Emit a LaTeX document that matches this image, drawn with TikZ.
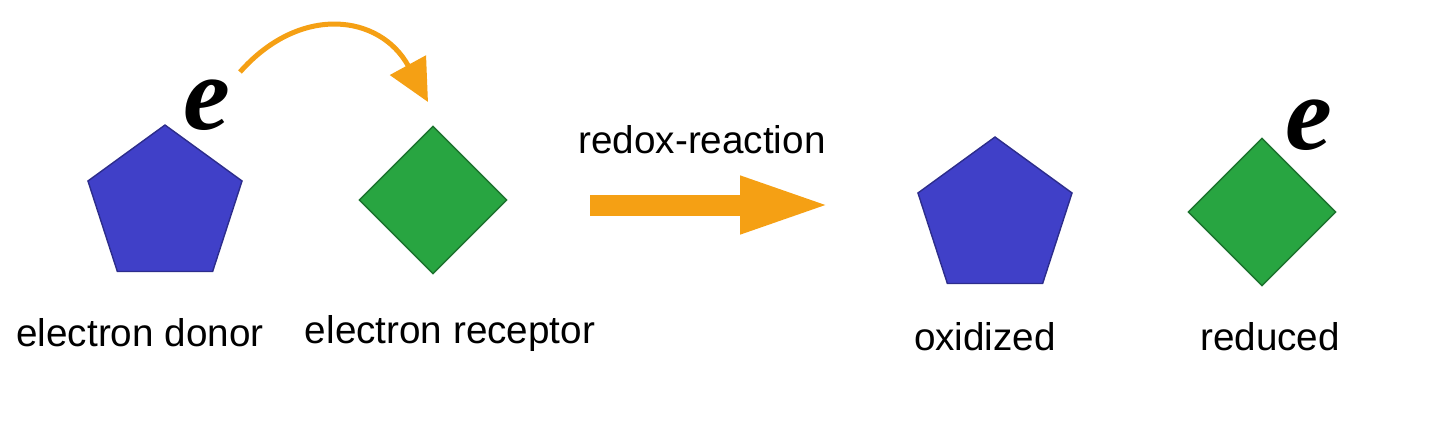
\documentclass[tikz,border=0pt]{standalone}
\usepackage{fontspec}
\setmainfont{Liberation Sans}
\newfontfamily\efont{Liberation Serif}
\usetikzlibrary{shapes.geometric,arrows.meta,positioning}
\definecolor{myblue}{RGB}{64,64,200}
\definecolor{mygreen}{RGB}{40,165,65}
\definecolor{myorange}{RGB}{245,160,20}

\begin{document}
\begin{tikzpicture}[thick,
  penta/.style={regular polygon,regular polygon sides=5,minimum size=1.62cm,
    inner sep=0pt,fill=myblue,draw=myblue!70!black,thin},
  dia/.style={diamond,minimum width=1.48cm,minimum height=1.48cm,
    inner sep=0pt,fill=mygreen,draw=mygreen!70!black,thin},
  lab/.style={font=\fontsize{11}{13}\selectfont},
  elec/.style={font=\efont\fontsize{30}{30}\selectfont\bfseries\itshape}]

  \useasboundingbox (0,0) rectangle (14.4,4.29);

  \node[penta] (donor) at (1.65,2.23) {};
  \node[dia] (receptor) at (4.33,2.29) {};
  \node[penta] (oxid) at (9.95,2.11) {};
  \node[dia] (red) at (12.62,2.17) {};

  \node[lab] (ldonor) at (1.40,0.96) {electron donor};
  \node[lab] (lreceptor) at (4.50,0.96) {electron receptor};
  \node[lab] (loxid) at (9.85,0.92) {oxidized};
  \node[lab] (lred) at (12.70,0.92) {reduced};
  \node[lab] (lredox) at (7.02,2.89) {redox-reaction};

  \node[elec] (e1) at (2.07,3.24) {e};
  \node[elec] (e2) at (13.09,3.04) {e};

  % electron jump
  \coordinate (jstart) at (2.40,3.57);
  \coordinate (jend) at (4.28,3.27);
  \draw[myorange,line width=0.05cm,-{Triangle[length=0.42cm,width=0.40cm]}]
    (jstart) .. controls (3.0,4.25) and (3.8,4.15) .. (jend);

  % reaction arrow
  \coordinate (rstart) at (5.90,2.24);
  \coordinate (rend) at (8.32,2.24);
  \draw[myorange,line width=0.21cm,-{Triangle[length=0.92cm,width=0.52cm]}]
    (rstart) -- (rend);

\end{tikzpicture}
\end{document}
